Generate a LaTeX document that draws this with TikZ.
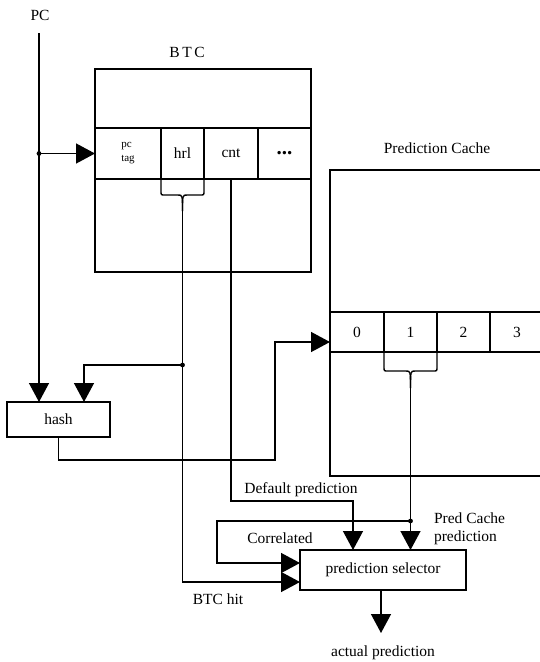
\documentclass[tikz,border=0pt]{standalone}
\usepackage{fontspec}
\setmainfont{Liberation Serif}
\usetikzlibrary{arrows.meta,positioning}

\begin{document}
\begin{tikzpicture}[x=1pt, y=-1pt, line width=1.4pt,
  every node/.style = {font=\fontsize{15.5}{18}\selectfont},
  box/.style = {draw, inner sep=0pt, outer sep=0pt},
  cell/.style = {box, minimum width=#1},
  arr/.style = {-{Triangle[length=19pt,width=20pt]}}]
  \clip (0,0) rectangle (540,662);

  % BTC
  \node at (187,52) {B\,T\,C};
  \node[box, minimum width=216pt, minimum height=203pt] (btc) at (203,170.5) {};
  \node[cell=66pt, minimum height=51pt, anchor=north west, align=left,
    font=\fontsize{11}{14}\selectfont] (pctag) at (95,128) {pc\\tag};
  \node[cell=43pt, minimum height=51pt, right=0pt of pctag] (hrl) {hrl};
  \node[cell=54pt, minimum height=51pt, right=0pt of hrl] (cnt) {cnt};
  \node[cell=53pt, minimum height=51pt, right=0pt of cnt,
    font=\fontsize{21}{21}\selectfont\bfseries] (more) {...};

  % Prediction Cache
  \node at (437,148) {Prediction Cache};
  \node[box, minimum width=214pt, minimum height=306pt] (pcache) at (437,323) {};
  \node[cell=54pt, minimum height=40pt, anchor=north west] (c0) at (330,312) {0};
  \node[cell=53pt, minimum height=40pt, right=0pt of c0] (c1) {1};
  \node[cell=53pt, minimum height=40pt, right=0pt of c1] (c2) {2};
  \node[cell=54pt, minimum height=40pt, right=0pt of c2] (c3) {3};

  \node[box, minimum width=103pt, minimum height=35pt] (hash) at (58.5,419.5) {hash};
  \node[box, minimum width=166pt, minimum height=40pt] (sel) at (383,570) {prediction selector};

  \node at (40,15) {PC};
  \node at (301,490) {Default prediction};
  \node[anchor=west, align=left] at (430,529) {Pred Cache\\prediction};
  \node at (280,538) {Correlated};
  \node at (218,599) {BTC hit};
  \node at (383,653) {actual prediction};

  \coordinate (pctop) at (39,33);
  \coordinate (j1) at (pctop |- pctag.west);
  \coordinate (hrlstem) at (182.5,211);
  \coordinate (j2) at (182.5,365);
  \coordinate (hb) at (275,460);
  \coordinate (dflt) at (353,501);
  \coordinate (cstem) at (410.5,388);
  \coordinate (j3) at (410.5,521);
  \coordinate (corr) at (217,563);
  \coordinate (outp) at (381,633);

  % braces
  \draw (hrl.south west) -- (161,191) .. controls (161,195) .. (165,195) -- (178,195)
    .. controls (182.5,195) .. (hrlstem);
  \draw (hrl.south east) -- (204,191) .. controls (204,195) .. (200,195) -- (187,195)
    .. controls (182.5,195) .. (hrlstem);
  \draw (c1.south west) -- (384,367) .. controls (384,371) .. (388,371) -- (406,371)
    .. controls (410.5,371) .. (cstem);
  \draw (c1.south east) -- (437,367) .. controls (437,371) .. (433,371) -- (415,371)
    .. controls (410.5,371) .. (cstem);

  \draw[arr] (pctop) -- (pctop |- hash.north);
  \draw[arr] (j1) -- (pctag.west);
  \draw[arr] (hrlstem) |- ([yshift=-12pt]sel.west);
  \draw[arr] (j2) -| ([xshift=25.5pt]hash.north);
  \draw[arr] (hash.south) |- (hb) |- ([yshift=-10pt]c0.west);
  \draw[arr] (cnt.south) |- (dflt) -- (dflt |- sel.north);
  \draw[arr] (cstem) -- (cstem |- sel.north);
  \draw[arr] (j3) -| (corr) -- (corr -| sel.west);
  \draw[arr] (sel.south -| outp) -- (outp);

  \foreach \j in {j1, j2, j3}
    \fill (\j) circle (2.4pt);
\end{tikzpicture}
\end{document}
